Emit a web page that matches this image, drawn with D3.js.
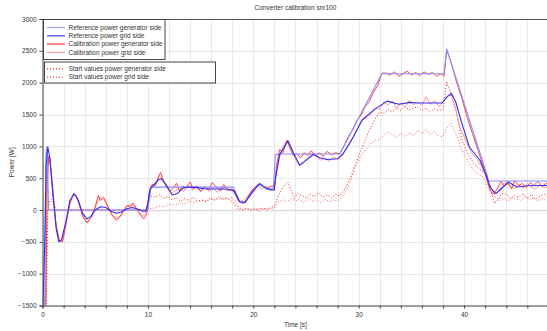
<!DOCTYPE html>
<html><head><meta charset="utf-8">
<script src="https://cdn.jsdelivr.net/npm/d3@7/dist/d3.min.js"></script>
<style>
body{margin:0;background:#fff}
svg{display:block}
text{font-family:"Liberation Sans",Arial,sans-serif;fill:#333}
</style>
</head><body>
<svg id="chart" width="547" height="331"></svg>
<script>
const title = "Converter calibration snr100";
const xLabel = "Time [s]";
const yLabel = "Power [W]";
const xGridValues = [0,2,4,6,8,10,12,14,16,18,20,22,24,26,28,30,32,34,36,38,40,42,44,46,48];
const xTickLabels = [0,10,20,30,40];
const yTickValues = [-1500,-1000,-500,0,500,1000,1500,2000,2500,3000];
const legendMain = ["Reference power generator side","Reference power grid side","Calibration power generator side","Calibration power grid side"];
const legendStart = ["Start values power generator side","Start values power grid side"];

// [time s, power W]
const refGen = [[0,-1700],[0.2,-1700],[0.32,850],[0.42,990],[0.5,600],[0.58,0],[10.0,0],[10.3,360],[18.1,360],[18.7,140],[19.2,110],[19.8,250],[20.5,400],[21.3,340],[21.9,330],[22.1,870],[22.5,880],[28.2,880],[32.2,2140],[38.1,2140],[38.35,2530],[42.2,540],[42.3,456],[48,456]];
const refGrid = [[0,-1700],[0.2,-600],[0.35,700],[0.5,990],[0.7,820],[1.0,250],[1.3,-300],[1.55,-500],[1.8,-470],[2.2,-200],[2.6,150],[3.0,258],[3.4,150],[3.8,-50],[4.2,-140],[4.6,-100],[5.0,0],[5.5,50],[6.0,40],[6.5,-20],[7.0,-50],[7.5,-30],[8.0,20],[8.5,40],[9.0,15],[9.5,-20],[9.8,-20],[10.0,100],[10.2,330],[10.6,400],[11.0,478],[11.3,490],[11.8,380],[12.3,235],[12.8,260],[13.3,340],[13.8,360],[14.5,355],[15.5,330],[16.5,330],[17.5,330],[18.2,300],[18.7,126],[19.2,120],[20.0,300],[20.6,415],[21.3,330],[22.0,310],[22.1,500],[22.5,870],[23.3,1085],[23.8,900],[24.4,703],[25.0,780],[25.7,871],[26.3,820],[27.0,792],[28.0,806],[28.5,880],[29.5,1150],[30.3,1410],[31.5,1580],[32.7,1710],[33.8,1662],[34.9,1690],[35.5,1680],[37.9,1680],[38.4,1780],[38.8,1830],[39.2,1700],[39.8,1358],[40.5,990],[41.5,781],[42.1,546],[42.5,350],[43.0,258],[43.5,330],[44.2,440],[45.0,362],[46,380],[48,385]];
const calibGen = [[0,-1700],[0.3,-1700],[0.45,400],[0.6,850],[0.75,700],[1.0,200],[1.3,-250],[1.6,-480],[1.9,-500],[2.2,-250],[2.6,100],[2.9,240],[3.2,230],[3.5,80],[3.8,-100],[4.2,-200],[4.6,-120],[5.0,50],[5.3,230],[5.5,150],[5.8,200],[6.2,60],[6.6,-80],[7.0,-160],[7.3,-120],[7.6,-30],[8.0,70],[8.3,50],[8.6,110],[9.0,0],[9.3,-80],[9.6,-140],[9.9,-60],[10.1,250],[10.4,400],[10.7,380],[11.0,520],[11.2,590],[11.5,450],[11.8,350],[12.1,300],[12.4,340],[12.7,420],[13.0,300],[13.3,380],[13.6,350],[14.0,440],[14.3,330],[14.7,380],[15.0,290],[15.4,360],[15.8,320],[16.1,430],[16.5,360],[16.9,300],[17.2,400],[17.6,310],[18.0,330],[18.3,250],[18.6,150],[19.0,100],[19.4,170],[19.8,300],[20.2,360],[20.6,420],[21.0,360],[21.4,350],[21.8,380],[22.0,330],[22.2,700],[22.5,950],[22.8,900],[23.2,1100],[23.5,960],[23.8,850],[24.1,880],[24.5,820],[24.8,900],[25.2,860],[25.5,930],[25.9,850],[26.3,900],[26.6,840],[27.0,920],[27.4,870],[27.8,900],[28.2,880],[28.6,1000],[29.0,1150],[29.4,1250],[29.8,1400],[30.2,1480],[30.6,1620],[31.0,1700],[31.4,1850],[31.8,1950],[32.2,2150],[32.6,2150],[33.0,2120],[33.4,2170],[33.8,2100],[34.2,2140],[34.6,2180],[35.0,2120],[35.4,2160],[35.8,2110],[36.2,2170],[36.6,2130],[37.0,2160],[37.4,2100],[37.8,2140],[38.1,2100],[38.35,2520],[38.8,2300],[39.3,2000],[39.8,1750],[40.3,1450],[40.8,1200],[41.3,950],[41.8,700],[42.2,450],[42.5,300],[42.8,250],[43.2,350],[43.5,450],[43.8,380],[44.2,420],[44.5,330],[44.8,460],[45.2,380],[45.5,420],[45.9,350],[46.3,430],[46.6,380],[47.0,450],[47.4,370],[47.8,420],[48,400]];
const calibGrid = [[0,-1700],[0.25,-1700],[0.4,600],[0.55,800],[0.7,820],[1.0,300],[1.3,-250],[1.6,-480],[1.9,-490],[2.2,-220],[2.6,120],[3.0,250],[3.3,200],[3.6,20],[4.0,-150],[4.3,-200],[4.7,-100],[5.1,80],[5.5,200],[5.9,150],[6.3,20],[6.7,-100],[7.1,-130],[7.5,-80],[7.9,40],[8.3,80],[8.7,60],[9.1,-20],[9.5,-100],[9.8,-60],[10.0,150],[10.3,380],[10.7,420],[11.1,540],[11.4,480],[11.8,350],[12.2,260],[12.6,300],[13.0,330],[13.4,290],[13.8,380],[14.2,320],[14.6,350],[15.0,300],[15.4,380],[15.8,290],[16.2,340],[16.6,280],[17.0,360],[17.4,300],[17.8,330],[18.2,270],[18.6,130],[19.0,150],[19.5,220],[20.0,330],[20.4,400],[20.8,330],[21.2,380],[21.6,300],[22.0,340],[22.2,600],[22.6,900],[23.0,1050],[23.3,1080],[23.7,950],[24.1,760],[24.4,700],[24.8,760],[25.2,820],[25.6,900],[26.0,840],[26.4,780],[26.8,820],[27.2,760],[27.6,830],[28.0,790],[28.4,850],[28.8,950],[29.2,1050],[29.6,1200],[30.0,1300],[30.4,1420],[30.8,1450],[31.2,1520],[31.6,1600],[32.0,1580],[32.4,1700],[32.8,1650],[33.2,1720],[33.6,1600],[34.0,1680],[34.4,1620],[34.8,1720],[35.2,1650],[35.6,1700],[36.0,1640],[36.4,1780],[36.8,1660],[37.2,1720],[37.6,1620],[38.0,1700],[38.4,1790],[38.8,1800],[39.2,1600],[39.6,1300],[40.0,1150],[40.4,1000],[40.8,880],[41.2,800],[41.6,700],[42.0,560],[42.4,400],[42.8,260],[43.2,270],[43.6,400],[44.0,430],[44.4,380],[44.8,330],[45.2,400],[45.6,340],[46.0,420],[46.4,360],[46.8,330],[47.2,400],[47.6,350],[48,370]];
const startGen = [[0,-1700],[0.35,-1700],[0.5,0],[0.7,140],[0.9,170],[1.1,80],[1.3,0],[9.8,0],[10.0,120],[10.3,220],[10.7,200],[11.1,240],[11.5,180],[11.9,210],[12.3,160],[12.7,190],[13.1,140],[13.5,180],[13.9,150],[14.3,200],[14.7,140],[15.1,160],[15.5,130],[15.9,190],[16.3,150],[16.7,210],[17.1,160],[17.5,190],[17.9,140],[18.2,100],[18.5,20],[18.9,0],[19.3,30],[19.7,0],[20.1,20],[20.5,-10],[20.9,30],[21.3,10],[21.7,40],[22.0,60],[22.3,200],[22.7,330],[23.0,400],[23.3,440],[23.6,300],[23.9,180],[24.2,260],[24.6,230],[25.0,190],[25.4,250],[25.8,210],[26.2,270],[26.6,200],[27.0,240],[27.4,190],[27.8,250],[28.2,220],[28.7,336],[29.2,500],[29.6,680],[30.0,850],[30.5,1050],[31.0,1250],[31.5,1410],[32.0,1540],[32.4,1520],[32.8,1580],[33.2,1540],[33.6,1600],[34.0,1560],[34.4,1620],[34.8,1570],[35.2,1600],[35.6,1620],[36.0,1560],[36.4,1600],[36.8,1540],[37.2,1590],[37.6,1560],[38.0,1580],[38.35,2010],[38.6,1900],[38.9,1750],[39.3,1500],[39.8,1100],[40.3,900],[40.9,730],[41.4,650],[42.0,570],[42.5,310],[42.9,100],[43.3,180],[43.6,260],[44.0,250],[44.4,180],[44.8,230],[45.2,200],[45.6,260],[46.0,180],[46.4,240],[46.8,170],[47.2,220],[47.6,250],[48,200]];
const startGrid = [[0,0],[9.9,0],[10.2,20],[10.6,30],[11.0,60],[11.5,50],[12.0,90],[12.5,80],[13.0,110],[13.5,100],[14.0,130],[14.5,120],[15.0,150],[15.5,140],[16.0,170],[16.5,160],[17.0,190],[17.5,170],[18.0,200],[18.3,150],[18.6,50],[19.0,0],[19.5,20],[20.0,0],[20.5,30],[21.0,10],[21.5,20],[22.0,30],[22.4,120],[22.8,160],[23.2,130],[23.6,180],[24.0,140],[24.4,170],[24.8,120],[25.2,190],[25.6,140],[26.0,160],[26.4,110],[26.8,170],[27.2,130],[27.6,160],[28.0,140],[28.4,200],[28.8,300],[29.2,450],[29.6,650],[30.0,780],[30.4,900],[30.8,980],[31.2,1050],[31.6,1100],[32.0,1100],[32.4,1180],[32.8,1230],[33.2,1180],[33.6,1140],[34.0,1200],[34.4,1150],[34.8,1220],[35.2,1170],[35.6,1250],[36.0,1200],[36.4,1260],[36.8,1180],[37.2,1230],[37.6,1160],[38.0,1150],[38.4,1300],[38.8,1360],[39.2,1200],[39.8,940],[40.3,780],[40.9,620],[41.4,560],[41.8,520],[42.3,340],[42.8,220],[43.4,150],[43.8,190],[44.2,140],[44.6,200],[45.0,170],[45.4,150],[45.8,210],[46.2,160],[46.6,190],[47.0,140],[47.4,180],[47.8,150],[48,170]];

const svg = d3.select("#chart");
const L = 42.5, R = 548.4, T = 19, B = 305.5;
const x = d3.scaleLinear().domain([0, 48]).range([L, R]);
const y = d3.scaleLinear().domain([-1500, 3000]).range([B, T]);

svg.append("defs").append("clipPath").attr("id","clip")
  .append("rect").attr("x", L).attr("y", T).attr("width", R - L).attr("height", B - T);

// grid
const grid = svg.append("g");
grid.selectAll("line.vx").data(xGridValues).join("line")
  .attr("x1", d => Math.round(x(d)) + 0.5).attr("x2", d => Math.round(x(d)) + 0.5)
  .attr("y1", T).attr("y2", B).attr("stroke", "#e8e8e8").attr("stroke-width", 1);
grid.selectAll("line.hy").data(yTickValues).join("line")
  .attr("x1", L).attr("x2", R)
  .attr("y1", d => Math.round(y(d)) + 0.5).attr("y2", d => Math.round(y(d)) + 0.5)
  .attr("stroke", d => d === 0 ? "#dcdcdc" : "#e8e8e8").attr("stroke-width", d => d === 0 ? 1.6 : 1);

// series
const line = d3.line().x(d => x(d[0])).y(d => y(d[1]));
const plot = svg.append("g").attr("clip-path", "url(#clip)");
const series = [
  {data: startGrid, color: "#ff5a5a", dash: "1,2", w: 1},
  {data: startGen, color: "#ff1a1a", dash: "1,2", w: 1},
  {data: calibGrid, color: "#ff8c8c", dash: null, w: 0.9},
  {data: calibGen, color: "#ff3030", dash: null, w: 0.9},
  {data: refGen, color: "#8a8aff", dash: null, w: 1.1},
  {data: refGrid, color: "#2e2ef0", dash: null, w: 1.1}
];
series.forEach(s => {
  plot.append("path").attr("d", line(s.data)).attr("fill", "none")
    .attr("stroke", s.color).attr("stroke-width", s.w)
    .attr("stroke-dasharray", s.dash).attr("stroke-linejoin", "round");
});

// axes
const xAxis = d3.axisBottom(x).tickValues(xGridValues.filter(d => d <= 47.9)).tickSize(3)
  .tickFormat(d => xTickLabels.includes(d) ? String(d) : "");
const gx = svg.append("g").attr("transform", `translate(0,${B})`).call(xAxis);
const yAxis = d3.axisLeft(y).tickValues(yTickValues).tickSize(3).tickFormat(d3.format("d"));
const gy = svg.append("g").attr("transform", `translate(${L},0)`).call(yAxis);
[gx, gy].forEach(g => {
  g.select(".domain").attr("stroke", "#444");
  g.selectAll(".tick line").attr("stroke", "#444");
  g.selectAll(".tick text").attr("font-size", "6.5px").attr("fill", "#333")
    .attr("font-family", '"Liberation Sans",Arial,sans-serif');
});
gx.selectAll(".tick text").attr("dy", "0.9em");
svg.append("line").attr("x1", L).attr("x2", 547).attr("y1", T + 0.5).attr("y2", T + 0.5)
  .attr("stroke", "#555").attr("stroke-width", 1);

// labels
svg.append("text").attr("x", (L + R) / 2).attr("y", 10).attr("text-anchor", "middle")
  .attr("font-size", "6.5px").text(title);
svg.append("text").attr("x", (L + R) / 2).attr("y", 327).attr("text-anchor", "middle")
  .attr("font-size", "6.5px").text(xLabel);
svg.append("text").attr("transform", `translate(14,${(T + B) / 2}) rotate(-90)`)
  .attr("text-anchor", "middle").attr("font-size", "6.5px").text(yLabel);

// legends
const lg1 = svg.append("g");
lg1.append("rect").attr("x", 43.5).attr("y", 19.5).attr("width", 121.5).attr("height", 40)
  .attr("fill", "#fff").attr("stroke", "#444");
const lg1Colors = ["#a0a0ff", "#3a3aff", "#ff3a3a", "#ffa0a0"];
legendMain.forEach((name, i) => {
  const yy = 27.5 + i * 8.3;
  lg1.append("line").attr("x1", 47).attr("x2", 65).attr("y1", yy).attr("y2", yy)
    .attr("stroke", lg1Colors[i]).attr("stroke-width", 1.2);
  lg1.append("text").attr("x", 68.5).attr("y", yy + 2.3).attr("font-size", "6.5px").text(name);
});
const lg2 = svg.append("g");
lg2.append("rect").attr("x", 44.5).attr("y", 62).attr("width", 171).attr("height", 21)
  .attr("fill", "#fff").attr("stroke", "#444");
const lg2Colors = ["#ff2020", "#ff4a4a"];
legendStart.forEach((name, i) => {
  const yy = 68.8 + i * 8.3;
  lg2.append("line").attr("x1", 47).attr("x2", 63).attr("y1", yy).attr("y2", yy)
    .attr("stroke", lg2Colors[i]).attr("stroke-width", 1.2).attr("stroke-dasharray", "1,2");
  lg2.append("text").attr("x", 68.7).attr("y", yy + 2.3).attr("font-size", "6.5px").text(name);
});
</script>
</body></html>
